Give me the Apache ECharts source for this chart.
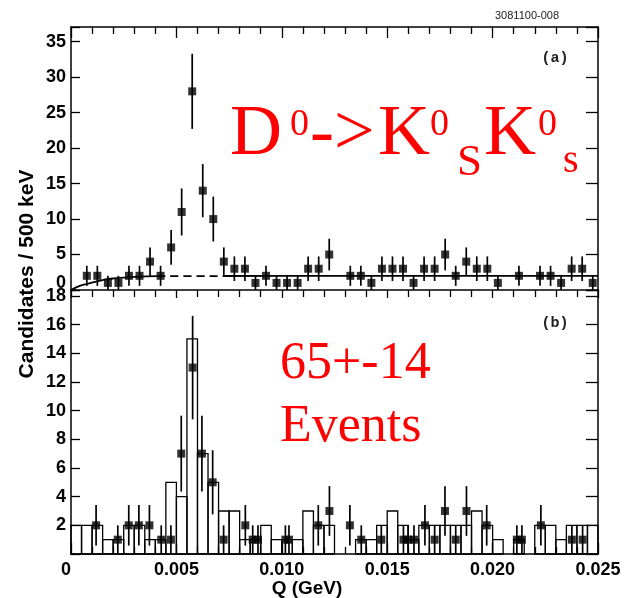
<!DOCTYPE html>
<html>
<head>
<meta charset="utf-8">
<script src="https://cdn.jsdelivr.net/npm/echarts@6/dist/echarts.min.js"></script>
<style>
  html, body { margin: 0; padding: 0; background: #fff; }
  #chart { width: 629px; height: 598px; }
</style>
</head>
<body>
<div id="chart"></div>
<script>
// Bin width of both histograms: 500 keV
const binWidth = 0.0005;

// Panel (a): candidates per bin (bin centres in GeV)
const topQ = [0.00075, 0.00125, 0.00175, 0.00225, 0.00275, 0.00325, 0.00375, 0.00425, 0.00475, 0.00525,
  0.00575, 0.00625, 0.00675, 0.00725, 0.00775, 0.00825, 0.00875, 0.00925, 0.00975, 0.01025,
  0.01075, 0.01125, 0.01175, 0.01225, 0.01325, 0.01375, 0.01425, 0.01475, 0.01525, 0.01575,
  0.01625, 0.01675, 0.01725, 0.01775, 0.01825, 0.01875, 0.01925, 0.01975, 0.02025, 0.02125,
  0.02225, 0.02275, 0.02325, 0.02375, 0.02425, 0.02475];
const topCounts = [2, 2, 1, 1, 2, 2, 4, 2, 6, 11,
  28, 14, 10, 4, 3, 3, 1, 2, 1, 1,
  1, 3, 3, 5, 2, 2, 1, 3, 3, 3,
  1, 3, 3, 5, 2, 4, 3, 3, 1, 2,
  2, 2, 1, 3, 3, 1];

// Panel (a): background shape
const bgQ = [0, 0.0003, 0.0006, 0.001, 0.0015, 0.002, 0.003, 0.0041, 0.0055, 0.0072, 0.01, 0.015, 0.02, 0.025];
const bgLevel = [0, 0.45, 0.75, 1.05, 1.4, 1.62, 1.85, 1.95, 1.96, 1.97, 1.98, 1.99, 2.0, 2.0];
const bgDashFrom = 0.0041;
const bgDashTo = 0.0072;

// Panel (b): selected candidates
const botQ = [0.00119, 0.00222, 0.00274, 0.00322, 0.00372, 0.00428, 0.00474, 0.00523, 0.00577, 0.00621,
  0.00672, 0.00724, 0.00827, 0.00862, 0.00887, 0.01017, 0.01034, 0.01173, 0.01226, 0.01323,
  0.01377, 0.01472, 0.01577, 0.01599, 0.01627, 0.01679, 0.01725, 0.01774, 0.01825, 0.01876,
  0.01972, 0.02115, 0.02139, 0.02229, 0.02376, 0.02427];
const botCounts = [2, 1, 2, 2, 2, 1, 1, 7, 13, 7,
  5, 1, 2, 1, 1, 1, 1, 2, 3, 2,
  1, 1, 1, 1, 1, 2, 1, 3, 1, 3,
  2, 1, 1, 2, 1, 1];

// Panel (b): expectation histogram, 50 bins from 0 to 0.025 GeV
const histCounts = [2, 2, 2, 1, 1, 2, 2, 1, 1, 5,
  4, 15, 7, 5, 3, 3, 1, 1, 2, 1,
  1, 1, 3, 2, 2, 0, 0, 1, 1, 2,
  3, 2, 1, 2, 2, 2, 2, 2, 3, 2,
  1, 0, 1, 0, 2, 2, 1, 2, 2, 2];

const topYMax = 37.07;
const botYMax = 18.41;

const chart = echarts.init(document.getElementById('chart'), null, { renderer: 'canvas' });

const black = '#000';
const tickFont = { fontFamily: 'Liberation Sans', fontWeight: 'bold', fontSize: 18, color: black };

function errorBar(params, api) {
  const q = api.value(0), n = api.value(1), e = Math.sqrt(n);
  const lo = api.coord([q, n - e]), hi = api.coord([q, n + e]);
  return { type: 'line', shape: { x1: lo[0], y1: lo[1], x2: hi[0], y2: hi[1] },
    style: { stroke: black, lineWidth: 1.7 } };
}

function histBox(params, api) {
  const q = api.value(0), n = api.value(1);
  if (!n) return null;
  const a = api.coord([q - binWidth / 2, n]);
  const b = api.coord([q + binWidth / 2, 0]);
  return { type: 'rect', shape: { x: a[0], y: a[1], width: b[0] - a[0], height: b[1] - a[1] },
    style: { fill: 'none', stroke: black, lineWidth: 1.3 } };
}

function xAxisCfg(grid, pos, opts) {
  return Object.assign({
    type: 'value', gridIndex: grid, position: pos, min: 0, max: 0.025, interval: 0.005,
    axisLine: { show: true, onZero: false, lineStyle: { color: black, width: 1.5 } },
    axisTick: { show: true, inside: true, length: 11, lineStyle: { color: black, width: 1.3 } },
    minorTick: { show: true, splitNumber: 5, length: 7, lineStyle: { color: black, width: 1.3 } },
    splitLine: { show: false },
    axisLabel: { show: false }
  }, opts || {});
}

function yAxisCfg(grid, pos, max, step, opts) {
  return Object.assign({
    type: 'value', gridIndex: grid, position: pos, min: 0, max: max, interval: step,
    axisLine: { show: true, onZero: false, lineStyle: { color: black, width: 1.5 } },
    axisTick: { show: true, inside: true, length: pos === 'left' ? 9 : 12, lineStyle: { color: black, width: 1.3 } },
    splitLine: { show: false },
    axisLabel: { show: false }
  }, opts || {});
}

const pts = (qs, ns) => qs.map((q, i) => [q, ns[i]]);
const bgPart = (from, to) => bgQ.map((q, i) => [q, bgLevel[i]]).filter(p => p[0] >= from && p[0] <= to);

const option = {
  animation: false,
  backgroundColor: '#fff',
  grid: [
    { left: 71, right: 31, top: 27, height: 263 },
    { left: 71, right: 31, top: 290, height: 264 }
  ],
  xAxis: [
    xAxisCfg(0, 'bottom', { axisTick: { show: true, inside: false, length: 8, lineStyle: { color: black, width: 1.3 } },
      minorTick: { show: true, splitNumber: 5, length: 7, lineStyle: { color: black, width: 1.3 } } }),
    xAxisCfg(0, 'top'),
    xAxisCfg(1, 'bottom', {
      axisLabel: Object.assign({ show: true, margin: 7,
        formatter: v => v === 0 ? '{z|0}' : v.toFixed(3),
        rich: { z: { fontFamily: 'Liberation Sans', fontWeight: 'bold', fontSize: 18, padding: [0, 10, 0, 0] } } }, tickFont)
    })
  ],
  yAxis: [
    yAxisCfg(0, 'left', topYMax, 5, {
      axisLabel: Object.assign({ show: true, margin: 5,
        formatter: v => (Math.abs(v % 5) < 1e-9 ? (v === 0 ? '{z|0}' : String(v)) : ''),
        rich: { z: { fontFamily: 'Liberation Sans', fontWeight: 'bold', fontSize: 18, padding: [0, 0, 14, 0] } } }, tickFont)
    }),
    yAxisCfg(0, 'right', topYMax, 5),
    yAxisCfg(1, 'left', botYMax, 2, {
      axisLabel: Object.assign({ show: true, margin: 5,
        formatter: v => (v > 0 && Math.abs(v % 2) < 1e-9 ? String(v) : '') }, tickFont)
    }),
    yAxisCfg(1, 'right', botYMax, 2)
  ],
  series: [
    // panel (a)
    { type: 'line', xAxisIndex: 0, yAxisIndex: 0, data: bgPart(0, bgDashFrom), smooth: true, symbol: 'none',
      lineStyle: { color: black, width: 1.8 }, z: 2 },
    { type: 'line', xAxisIndex: 0, yAxisIndex: 0, data: bgPart(bgDashFrom, bgDashTo), smooth: true, symbol: 'none',
      lineStyle: { color: black, width: 1.8, type: [8, 5] }, z: 2 },
    { type: 'line', xAxisIndex: 0, yAxisIndex: 0, data: bgPart(bgDashTo, 0.025), smooth: true, symbol: 'none',
      lineStyle: { color: black, width: 1.8 }, z: 2 },
    { type: 'custom', xAxisIndex: 0, yAxisIndex: 0, data: pts(topQ, topCounts), renderItem: errorBar, z: 3 },
    { type: 'scatter', xAxisIndex: 0, yAxisIndex: 0, data: pts(topQ, topCounts), symbol: 'rect', symbolSize: 8,
      itemStyle: { color: black }, z: 4 },
    // panel (b)
    { type: 'custom', xAxisIndex: 2, yAxisIndex: 2, data: histCounts.map((n, i) => [(i + 0.5) * binWidth, n]),
      renderItem: histBox, z: 2 },
    { type: 'custom', xAxisIndex: 2, yAxisIndex: 2, data: pts(botQ, botCounts), renderItem: errorBar, z: 3 },
    { type: 'scatter', xAxisIndex: 2, yAxisIndex: 2, data: pts(botQ, botCounts), symbol: 'rect', symbolSize: 8,
      itemStyle: { color: black }, z: 4 }
  ],
  graphic: [
    { type: 'text', x: 527, y: 16, style: { text: '3081100-008', font: '11px "Liberation Sans"', fill: '#222', align: 'center', verticalAlign: 'middle' } },
    { type: 'text', x: 555, y: 58, style: { text: '(a)', font: 'bold 15px "Liberation Mono"', fill: '#222', align: 'center', verticalAlign: 'middle' } },
    { type: 'text', x: 555, y: 323, style: { text: '(b)', font: 'bold 15px "Liberation Mono"', fill: '#222', align: 'center', verticalAlign: 'middle' } },
    { type: 'text', x: 27, y: 274, rotation: Math.PI / 2,
      style: { text: 'Candidates / 500 keV', font: 'bold 21px "Liberation Sans"', fill: black, align: 'center', verticalAlign: 'middle' } },
    { type: 'text', x: 307, y: 589, style: { text: 'Q (GeV)', font: 'bold 19px "Liberation Sans"', fill: black, align: 'center', verticalAlign: 'middle' } },
    // decay label
    { type: 'text', x: 230, y: 135.5, style: { text: 'D', font: '72px "Liberation Serif"', fill: '#ff0000', verticalAlign: 'middle' } },
    { type: 'text', x: 290, y: 125, style: { text: '0', font: '38px "Liberation Serif"', fill: '#ff0000', verticalAlign: 'middle' } },
    { type: 'text', x: 310, y: 135.5, style: { text: '->', font: '72px "Liberation Serif"', fill: '#ff0000', verticalAlign: 'middle' } },
    { type: 'text', x: 378, y: 135.5, style: { text: 'K', font: '72px "Liberation Serif"', fill: '#ff0000', verticalAlign: 'middle' } },
    { type: 'text', x: 430, y: 125, style: { text: '0', font: '38px "Liberation Serif"', fill: '#ff0000', verticalAlign: 'middle' } },
    { type: 'text', x: 457, y: 162.7, style: { text: 'S', font: '45px "Liberation Serif"', fill: '#ff0000', verticalAlign: 'middle' } },
    { type: 'text', x: 484, y: 135.5, style: { text: 'K', font: '72px "Liberation Serif"', fill: '#ff0000', verticalAlign: 'middle' } },
    { type: 'text', x: 538, y: 125, style: { text: '0', font: '38px "Liberation Serif"', fill: '#ff0000', verticalAlign: 'middle' } },
    { type: 'text', x: 563, y: 161.4, style: { text: 's', font: '40px "Liberation Serif"', fill: '#ff0000', verticalAlign: 'middle' } },
    // signal yield
    { type: 'text', x: 280, y: 364, style: { text: '65+-14', font: '52px "Liberation Serif"', fill: '#ff0000', verticalAlign: 'middle' } },
    { type: 'text', x: 280, y: 427, style: { text: 'Events', font: '52px "Liberation Serif"', fill: '#ff0000', verticalAlign: 'middle' } }
  ]
};

chart.setOption(option);
</script>
</body>
</html>
